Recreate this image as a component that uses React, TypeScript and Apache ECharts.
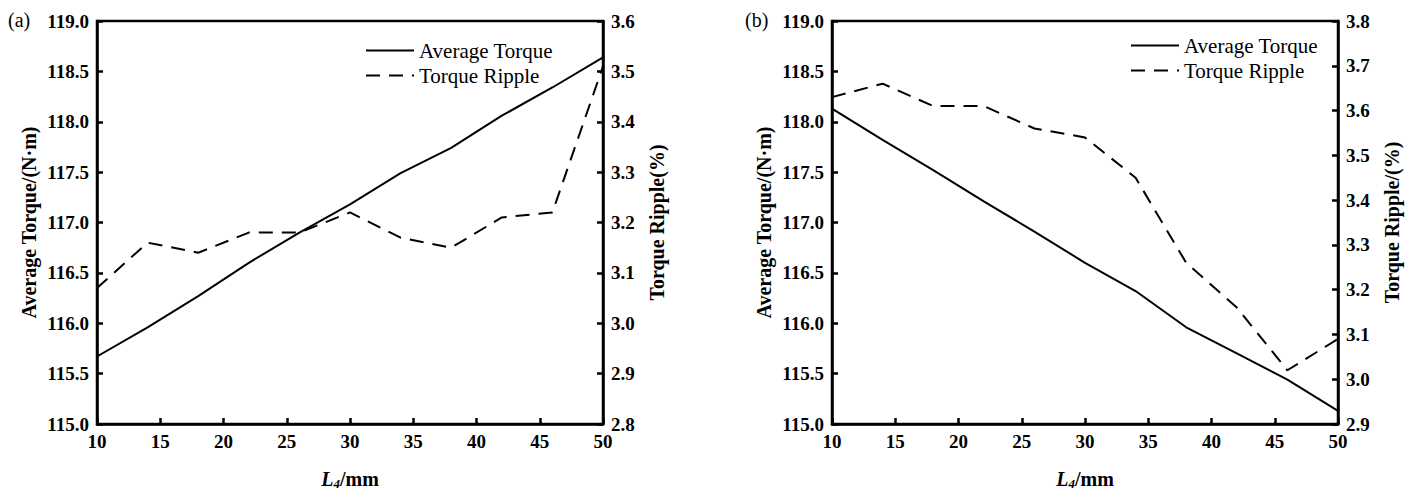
import React, { useEffect, useRef } from 'react';
import * as echarts from 'echarts';

const xValues = [10, 14, 18, 22, 26, 30, 34, 38, 42, 46, 50];
const torqueA = [115.67, 115.96, 116.27, 116.6, 116.9, 117.18, 117.49, 117.74, 118.06, 118.34, 118.64];
const rippleA = [3.07, 3.16, 3.14, 3.18, 3.18, 3.22, 3.17, 3.15, 3.21, 3.22, 3.51];
const torqueB = [118.13, 117.82, 117.52, 117.21, 116.91, 116.6, 116.32, 115.96, 115.7, 115.44, 115.13];
const rippleB = [3.63, 3.66, 3.61, 3.61, 3.56, 3.54, 3.45, 3.26, 3.16, 3.02, 3.09];
const seriesNames = ['Average Torque', 'Torque Ripple'];
const panelLabels = ['(a)', '(b)'];
const rippleTitles = ['Torque Ripple(%)', 'Torque Ripple/(%)'];
const torqueTitle = 'Average Torque/(N·m)';

const FONT = 'Liberation Serif';

const pairs = (xs: number[], ys: number[]) => xs.map((x, i) => [x, ys[i]]);

export default function App() {
  const ref = useRef<HTMLDivElement>(null);
  useEffect(() => {
    const chart = echarts.init(ref.current!, null, { renderer: 'svg' });
    const axisLine = { show: true, lineStyle: { color: '#000', width: 2.5 } };
    const axisTick = { show: true, inside: true, length: 6, lineStyle: { color: '#000', width: 2.5 } };
    const labelStyle = { color: '#000', fontFamily: FONT, fontWeight: 'bold' as const, fontSize: 19 };
    const nameStyle = { color: '#000', fontFamily: FONT, fontWeight: 'bold' as const, fontSize: 20 };
    const gridLefts = [97, 832];
    const grids = gridLefts.map((l) => ({
      left: l, top: 21, width: 506, height: 409, show: true,
      borderColor: '#000', borderWidth: 2.5, backgroundColor: 'transparent',
    }));
    const xAxes = [0, 1].map((g) => ({
      type: 'value', gridIndex: g, min: 10, max: 50, interval: 5,
      axisLine, axisTick, splitLine: { show: false },
      axisLabel: { ...labelStyle, margin: 8 },
      name: '{i|L}{s|4}{b|/mm}', nameLocation: 'middle', nameGap: 43,
      nameTextStyle: {
        ...nameStyle,
        rich: {
          i: { fontFamily: FONT, fontWeight: 'bold', fontStyle: 'italic', fontSize: 20, color: '#000' },
          s: { fontFamily: FONT, fontWeight: 'bold', fontStyle: 'italic', fontSize: 13, color: '#000', padding: [10, 0, 0, 0] },
          b: { fontFamily: FONT, fontWeight: 'bold', fontSize: 20, color: '#000' },
        },
      },
    }));
    const rippleRanges = [[2.8, 3.6], [2.9, 3.8]];
    const yAxes: any[] = [];
    [0, 1].forEach((g) => {
      yAxes.push({
        type: 'value', gridIndex: g, min: 115, max: 119, interval: 0.5, position: 'left',
        axisLine, axisTick, splitLine: { show: false },
        axisLabel: { ...labelStyle, margin: 8, formatter: (v: number) => v.toFixed(1) },
        name: torqueTitle, nameLocation: 'middle', nameRotate: 90, nameGap: 58, nameTextStyle: nameStyle,
      });
      yAxes.push({
        type: 'value', gridIndex: g, min: rippleRanges[g][0], max: rippleRanges[g][1], interval: 0.1, position: 'right',
        axisLine, axisTick, splitLine: { show: false },
        axisLabel: { ...labelStyle, margin: 8, formatter: (v: number) => v.toFixed(1) },
        name: rippleTitles[g], nameLocation: 'middle', nameRotate: 90, nameGap: 44, nameTextStyle: nameStyle,
      });
    });
    const solid = { color: '#000', width: 2, type: 'solid' };
    const dashed = { color: '#000', width: 2, type: [14, 9] };
    const mk = (name: string, g: number, yi: number, data: number[][], ls: any) => ({
      type: 'line', name, xAxisIndex: g, yAxisIndex: yi, data, showSymbol: false, symbol: 'none',
      lineStyle: ls, itemStyle: { color: '#000' }, silent: true,
    });
    const series = [
      mk(seriesNames[0], 0, 0, pairs(xValues, torqueA), solid),
      mk(seriesNames[1], 0, 1, pairs(xValues, rippleA), dashed),
      mk(seriesNames[0], 1, 2, pairs(xValues, torqueB), solid),
      mk(seriesNames[1], 1, 3, pairs(xValues, rippleB), dashed),
    ];
    const legendPos = [{ left: 360, top: 35 }, { left: 1125, top: 30 }];
    const legends = legendPos.map((p) => ({
      ...p, orient: 'vertical', itemWidth: 48, itemHeight: 14, itemGap: 4,
      data: seriesNames, selectedMode: false,
      itemStyle: { opacity: 0 },
      textStyle: { color: '#000', fontFamily: FONT, fontSize: 21 },
    }));
    chart.setOption({
      animation: false,
      backgroundColor: '#fff',
      grid: grids,
      xAxis: xAxes,
      yAxis: yAxes,
      legend: legends,
      series,
      graphic: [
        { type: 'text', left: 8, top: 10, style: { text: panelLabels[0], fontFamily: FONT, fontSize: 20, fill: '#000' } },
        { type: 'text', left: 745, top: 10, style: { text: panelLabels[1], fontFamily: FONT, fontSize: 20, fill: '#000' } },
      ],
    });
    return () => chart.dispose();
  }, []);
  return <div ref={ref} style={{ position: 'fixed', left: 0, top: 0, width: 1411, height: 495 }} />;
}
